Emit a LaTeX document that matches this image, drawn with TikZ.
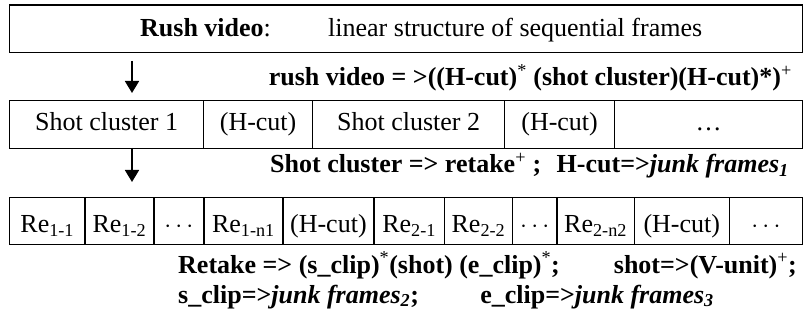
\documentclass[tikz,border=0pt]{standalone}
\usepackage{fontspec}
\setmainfont{Liberation Serif}
\usetikzlibrary{arrows.meta}
% light-weight superscript marks (* and +) inside bold rules
\newcommand{\mk}[1]{\textsuperscript{\mdseries #1}}

\begin{document}
\begin{tikzpicture}[x=1pt,y=-1pt,
  every node/.style={font=\fontsize{26}{30}\selectfont},
  frame/.style={draw, line width=1.2pt, inner sep=0pt, anchor=north west},
  rowtwo/.style={frame, text height=30pt, text depth=18pt},
  rowthree/.style={frame, text height=35.3pt, text depth=12pt},
  rule/.style={anchor=base west, inner sep=0pt, font=\fontsize{26}{30}\selectfont\bfseries},
  ruleend/.style={rule, anchor=base east},
  down/.style={line width=1.8pt, -{Triangle[length=12pt,width=14pt]}}
]
\useasboundingbox (0,0) rectangle (804,326);

% top box: the raw rush video
\node[frame, minimum width=793pt, minimum height=47.5pt] (rush) at (9,4.5) {};
\node[rule] (rushlbl) at (140,37) {Rush video\mdseries:};
\node[anchor=base west, inner sep=0pt] (rushdesc) at (328,37) {linear structure of sequential frames};

% first refinement
\coordinate (a1s) at (132,61);
\coordinate (a1e) at (132,93);
\draw[down] (a1s) -- (a1e);
\node[ruleend] (grammar1) at (792,86) {rush video = >((H-cut)\mk{*} (shot cluster)(H-cut)*)\mk{+}};

% second row: shot clusters and H-cuts
\node[rowtwo, minimum width=194pt] (sc1) at (9,100)   {Shot cluster 1};
\node[rowtwo, minimum width=109pt] (hc1) at (203,100) {(H-cut)};
\node[rowtwo, minimum width=192pt] (sc2) at (312,100) {Shot cluster 2};
\node[rowtwo, minimum width=110pt] (hc2) at (504,100) {(H-cut)};
\node[rowtwo, minimum width=188pt] (scn) at (614,100) {\dots};

% second refinement
\coordinate (a2s) at (132,148);
\coordinate (a2e) at (132,182);
\draw[down] (a2s) -- (a2e);
\node[rule] (grammar2a) at (270,173) {Shot cluster => retake\mk{+} ;};
\node[ruleend] (grammar2b) at (789,173) {H-cut=>\textit{junk frames\textsubscript{1}}};

% third row: retakes
\node[rowthree, minimum width=75.3pt] (re11) at (9,196.7)     {Re\textsubscript{1-1}};
\node[rowthree, minimum width=69pt]   (re12) at (84.3,196.7)  {Re\textsubscript{1-2}};
\node[rowthree, minimum width=50pt]   (re1d) at (153.3,196.7) {$\cdots$};
\node[rowthree, minimum width=79pt]   (re1n) at (203.3,196.7) {Re\textsubscript{1-n1}};
\node[rowthree, minimum width=91pt]   (hc3)  at (282.3,196.7) {(H-cut)};
\node[rowthree, minimum width=70.4pt] (re21) at (373.3,196.7) {Re\textsubscript{2-1}};
\node[rowthree, minimum width=68.3pt] (re22) at (443.7,196.7) {Re\textsubscript{2-2}};
\node[rowthree, minimum width=44.3pt] (re2d) at (512,196.7)   {$\cdots$};
\node[rowthree, minimum width=77.4pt] (re2n) at (556.3,196.7) {Re\textsubscript{2-n2}};
\node[rowthree, minimum width=95pt]   (hc4)  at (633.7,196.7) {(H-cut)};
\node[rowthree, minimum width=73.3pt] (ren)  at (728.7,196.7) {$\cdots$};

% retake grammar
\node[rule] (grammar3a) at (178,273) {Retake => (s\_clip)\mk{*}(shot) (e\_clip)\mk{*};};
\node[ruleend] (grammar3b) at (797,273) {shot=>(V-unit)\mk{+};};
\node[rule] (grammar4a) at (178,303) {s\_clip=>\textit{junk frames\textsubscript{2}};};
\node[ruleend] (grammar4b) at (714,303) {e\_clip=>\textit{junk frames\textsubscript{3}}};
\end{tikzpicture}
\end{document}
